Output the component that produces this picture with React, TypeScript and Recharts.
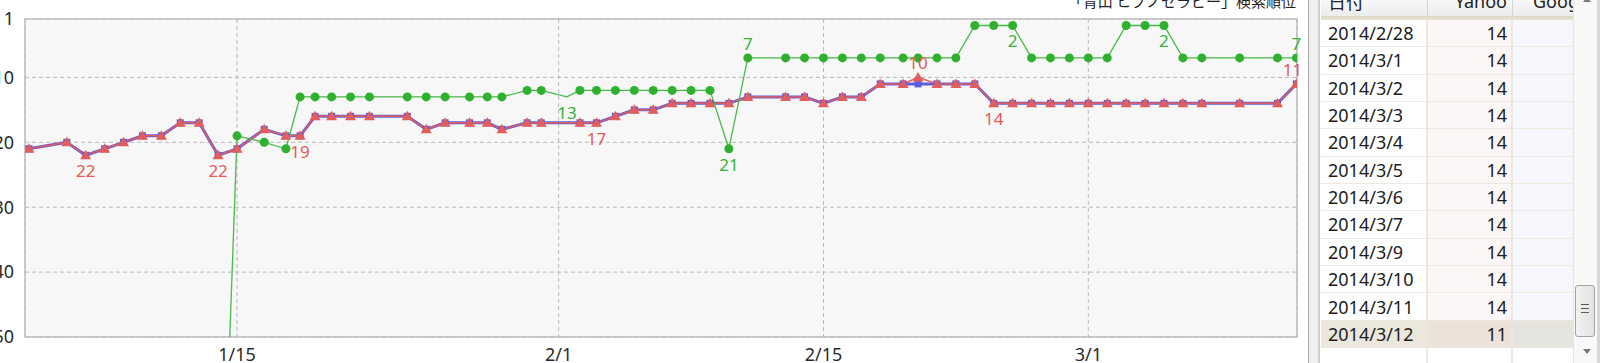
import React from "react";
import { LineChart, Line, XAxis, YAxis, CartesianGrid, ReferenceArea } from "recharts";

// measurement times (month/day, optional hh:mm)
const DATES = [
  "1/4", "1/6", "1/7", "1/8", "1/9", "1/10", "1/11", "1/12", "1/13", "1/14",
  "1/15", "1/16 10:30", "1/17 14:00", "1/18 08:00", "1/19 03:00", "1/20", "1/21", "1/22", "1/24", "1/25",
  "1/26", "1/27 07:00", "1/28 05:30", "1/29", "1/30 08:00", "1/31 02:00", "2/1 10:30", "2/2 03:00", "2/3", "2/4",
  "2/5", "2/6", "2/7", "2/8", "2/9", "2/10", "2/11", "2/13", "2/14", "2/15",
  "2/16", "2/17", "2/18", "2/19 05:00", "2/20", "2/21", "2/22", "2/23", "2/24", "2/25",
  "2/26", "2/27", "2/28", "3/1", "3/2", "3/3", "3/4", "3/5", "3/6", "3/7",
  "3/9", "3/11", "3/12",
];

const YAHOO = [
  21, 20, 22, 21, 20, 19, 19, 17, 17, 22,
  21, 18, 19, 19, 16, 16, 16, 16, 16, 18,
  17, 17, 17, 18, 17, 17, null, 17, 17, 16,
  15, 15, 14, 14, 14, 14, 13, 13, 13, 14,
  13, 13, 11, 11, 10, 11, 11, 11, 14, 14,
  14, 14, 14, 14, 14, 14, 14, 14, 14, 14,
  14, 14, 11,
];

const GOOGLE = [
  21, 20, 22, 21, 20, 19, 19, 17, 17, 22,
  21, 18, 19, 19, 16, 16, 16, 16, 16, 18,
  17, 17, 17, 18, 17, 17, null, 17, 17, 16,
  15, 15, 14, 14, 14, 14, 13, 13, 13, 14,
  13, 13, 11, 11, 11, 11, 11, 11, 14, 14,
  14, 14, 14, 14, 14, 14, 14, 14, 14, 14,
  14, 14, 11,
];

// 100 = out of ranking
const BING = [
  100, 100, 100, 100, 100, 100, 100, 100, 100, 100,
  19, 20, 21, 13, 13, 13, 13, 13, 13, 13,
  13, 13, 13, 13, 12, 12, 13, 12, 12, 12,
  12, 12, 12, 12, 12, 21, 7, 7, 7, 7,
  7, 7, 7, 7, 7, 7, 7, 2, 2, 2,
  7, 7, 7, 7, 7, 2, 2, 2, 7, 7,
  7, 7, 7,
];

const YAHOO_LABELS = ["1/7", "1/14", "1/18 08:00", "2/3", "2/20", "2/24", "3/12"];
const BING_LABELS = ["2/1 10:30", "2/10", "2/11", "2/25", "3/5", "3/12"];
const BING_NO_MARK = ["2/1 10:30"];

const X_TICKS = ["1/15", "2/1", "2/15", "3/1"];
const X_RANGE = ["1/3 19:00", "3/12 00:45"];
const Y_TICKS = [1, 10, 20, 30, 40, 50];

const TITLE = "「青山 ヒプノセラピー」検索順位";
const COLUMNS = ["日付", "Yahoo", "Google"];
const TABLE_DATES = [
  "2014/2/28", "2014/3/1", "2014/3/2", "2014/3/3", "2014/3/4", "2014/3/5",
  "2014/3/6", "2014/3/7", "2014/3/9", "2014/3/10", "2014/3/11", "2014/3/12",
];
const TABLE_YAHOO = [14, 14, 14, 14, 14, 14, 14, 14, 14, 14, 14, 11];

const toTime = (s: string) => {
  const [md, hm = "00:00"] = s.split(" ");
  const [m, d] = md.split("/").map(Number);
  const [h, mi] = hm.split(":").map(Number);
  return Date.UTC(2014, m - 1, d, h, mi);
};

const data = DATES.map((d, i) => ({
  date: d,
  t: toTime(d),
  yahoo: YAHOO[i],
  google: GOOGLE[i],
  bing: BING[i],
}));

const RED = "#e25d5d";
const BLUE = "#5c5cd8";
const GREEN = "#2fb12f";
const LABEL_MAX_X = 1302;

const triangleDot = (p: any) => {
  const { cx, cy, index } = p;
  if (cx == null || cy == null || p.value == null) return <g key={`tr-${index}`} />;
  return (
    <path
      key={`tr-${index}`}
      d={`M${cx},${cy - 5.5}L${cx + 5.5},${cy + 4}L${cx - 5.5},${cy + 4}Z`}
      fill={RED}
    />
  );
};

const squareDot = (p: any) => {
  const { cx, cy, index } = p;
  if (cx == null || cy == null || p.value == null) return <g key={`sq-${index}`} />;
  return <rect key={`sq-${index}`} x={cx - 3.5} y={cy - 3.5} width={7} height={7} fill={BLUE} />;
};

const circleDot = (p: any) => {
  const { cx, cy, index } = p;
  if (cx == null || cy == null || BING_NO_MARK.includes(data[index]?.date)) return <g key={`ci-${index}`} />;
  return <circle key={`ci-${index}`} cx={cx} cy={cy} r={4.5} fill={GREEN} />;
};

const makeLabel = (key: "yahoo" | "bing", dates: string[], color: string) => (p: any) => {
  const { index } = p;
  const row: any = data[index];
  if (!row || !dates.includes(row.date)) return null;
  const x = p.x ?? p.viewBox?.x;
  const y = p.y ?? p.viewBox?.y;
  if (x == null || y == null) return null;
  const v = row[key];
  const prev = index > 0 ? (data[index - 1] as any)[key] : null;
  const above = index === data.length - 1 || (prev != null && v < prev);
  // keep the text inside the chart's right edge
  const half = (String(v).length * 9.6) / 2;
  const cx = Math.min(x, LABEL_MAX_X - half);
  return (
    <text x={cx} y={above ? y - 8 : y + 22} textAnchor="middle" fill={color} fontSize={17}>
      {v}
    </text>
  );
};

function RankChart() {
  const tickLabel = (t: number) => {
    const d = new Date(t);
    return `${d.getUTCMonth() + 1}/${d.getUTCDate()}`;
  };
  const [x0, x1] = X_RANGE.map(toTime);
  return (
    <LineChart width={1306} height={363} data={data} margin={{ top: 19, right: 9, bottom: 0, left: 0 }}>
      <CartesianGrid fill="#f7f7f7" stroke="#b9b9b9" strokeDasharray="4 3" />
      <XAxis
        dataKey="t"
        type="number"
        domain={[x0, x1]}
        allowDataOverflow
        ticks={X_TICKS.map(toTime)}
        tickFormatter={tickLabel}
        axisLine={false}
        tickLine={false}
        tickSize={0}
        tickMargin={11}
        height={26}
        tick={{ fill: "#2a2a2a", fontSize: 18 }}
      />
      <YAxis
        reversed
        type="number"
        domain={[1, 50]}
        allowDataOverflow
        ticks={Y_TICKS}
        interval={0}
        axisLine={false}
        tickLine={false}
        tickSize={0}
        tickMargin={11}
        width={25}
        tick={{ fill: "#2a2a2a", fontSize: 18 }}
      />
      <ReferenceArea x1={x0} x2={x1} y1={1} y2={50} fill="none" stroke="#bdbdbd" strokeWidth={1.5} />
      <Line
        dataKey="google"
        stroke={BLUE}
        strokeWidth={3}
        dot={squareDot}
        activeDot={false}
        connectNulls
        isAnimationActive={false}
      />
      <Line
        dataKey="yahoo"
        stroke={RED}
        strokeWidth={1.5}
        dot={triangleDot}
        activeDot={false}
        connectNulls
        label={makeLabel("yahoo", YAHOO_LABELS, "#e35a57")}
        isAnimationActive={false}
      />
      <Line
        dataKey="bing"
        stroke="#49b949"
        strokeWidth={1.3}
        dot={circleDot}
        activeDot={false}
        label={makeLabel("bing", BING_LABELS, "#38b038")}
        isAnimationActive={false}
      />
    </LineChart>
  );
}

const ROW_TOP = 20;
const ROW_H = 27.35;
const COL_W = [106, 85, 61];

function DataTable() {
  const lefts = [0, COL_W[0], COL_W[0] + COL_W[1]];
  const cellBg = ["#ffffff", "#fdf6f6", "#f6f6fd"];
  const selBg = ["#ebe7dc", "#ece2d9", "#e6e4df"];
  return (
    <div style={{ position: "absolute", left: 1321, top: 0, width: 252, height: 363, background: "#fff", overflow: "hidden" }}>
      {/* header */}
      <div style={{ position: "absolute", left: 0, top: 0, width: 252, height: 16, background: "linear-gradient(#f8f8f8, #ececec)" }} />
      {lefts.slice(1).map((l, i) => (
        <div key={`hs${i}`} style={{ position: "absolute", left: l, top: 0, width: 1, height: 16, background: "#d4d4d4" }} />
      ))}
      {COLUMNS.map((c, i) => (
        <div
          key={`h${i}`}
          style={{
            position: "absolute",
            top: -11,
            left: lefts[i] + (i === 0 ? 7 : i === 1 ? 0 : 21),
            width: i === 1 ? COL_W[1] - 5 : 120,
            textAlign: i === 1 ? "right" : "left",
            fontSize: 18,
            lineHeight: "24px",
            color: "#222",
            fontFamily: i === 0 ? "'Noto Sans CJK JP'" : "'Noto Sans'",
            whiteSpace: "nowrap",
          }}
        >
          {c}
        </div>
      ))}
      <div style={{ position: "absolute", left: 0, top: 16, width: 252, height: 4, background: "linear-gradient(#ddd6c2, #e9e4d6)" }} />
      {/* rows */}
      {TABLE_DATES.map((d, r) => {
        const top = ROW_TOP + r * ROW_H;
        const sel = r === TABLE_DATES.length - 1;
        return (
          <React.Fragment key={`r${r}`}>
            {lefts.map((l, c) => (
              <div
                key={`c${r}-${c}`}
                style={{
                  position: "absolute",
                  left: l,
                  top,
                  width: COL_W[c],
                  height: ROW_H,
                  background: sel ? selBg[c] : cellBg[c],
                  borderBottom: "1.5px solid #ede9df",
                  boxSizing: "border-box",
                }}
              />
            ))}
            <div style={{ position: "absolute", left: 7, top, height: ROW_H, lineHeight: `${ROW_H}px`, fontSize: 18, color: "#1c1c1c" }}>{d}</div>
            <div
              style={{
                position: "absolute",
                left: COL_W[0],
                width: COL_W[1] - 5,
                top,
                height: ROW_H,
                lineHeight: `${ROW_H}px`,
                fontSize: 18,
                textAlign: "right",
                color: "#1c1c1c",
              }}
            >
              {TABLE_YAHOO[r]}
            </div>
          </React.Fragment>
        );
      })}
      {lefts.slice(1).map((l, i) => (
        <div key={`vs${i}`} style={{ position: "absolute", left: l - 1, top: 20, width: 1.5, height: 343, background: "#ece8dc" }} />
      ))}
    </div>
  );
}

function ScrollBar() {
  return (
    <div style={{ position: "absolute", left: 1573, top: 0, width: 24, height: 363, background: "#f8f8f8", borderLeft: "1px solid #e4e4e4", boxSizing: "border-box" }}>
      <div style={{ position: "absolute", left: 9, top: -3, width: 0, height: 0, borderLeft: "4px solid transparent", borderRight: "4px solid transparent", borderBottom: "5px solid #777" }} />
      <div
        style={{
          position: "absolute",
          left: 1,
          top: 285,
          width: 20,
          height: 52,
          borderRadius: 3,
          border: "1px solid #a3a3a3",
          background: "linear-gradient(90deg, #f2f2f2, #e2e2e2)",
          boxSizing: "border-box",
        }}
      >
        {[0, 4, 8].map((o) => (
          <div key={o} style={{ position: "absolute", left: 5, top: 18 + o, width: 8, height: 1, background: "#5a5a5a" }} />
        ))}
      </div>
      <div style={{ position: "absolute", left: 9, top: 349, width: 0, height: 0, borderLeft: "4px solid transparent", borderRight: "4px solid transparent", borderTop: "5px solid #777" }} />
    </div>
  );
}

export default function App() {
  return (
    <div
      style={{
        position: "fixed",
        left: 0,
        top: 0,
        width: 1600,
        height: 363,
        background: "#fff",
        overflow: "hidden",
        fontFamily: "'Noto Sans', 'Noto Sans CJK JP', sans-serif",
      }}
    >
      <div style={{ position: "absolute", left: 0, top: 0 }}>
        <RankChart />
      </div>
      <div
        style={{
          position: "absolute",
          right: 1600 - 1296,
          top: -7,
          fontSize: 15,
          lineHeight: "15px",
          color: "#222",
          fontFamily: "'Noto Sans CJK JP'",
          whiteSpace: "nowrap",
        }}
      >
        {TITLE}
      </div>
      <div style={{ position: "absolute", left: 1308, top: 0, width: 1, height: 363, background: "#a8a8a8" }} />
      <div style={{ position: "absolute", left: 1309, top: 0, width: 9, height: 363, background: "#f0f0f0" }} />
      <div style={{ position: "absolute", left: 1318, top: 0, width: 2, height: 363, background: "#cfcfcf" }} />
      <DataTable />
      <ScrollBar />
      <div style={{ position: "absolute", left: 1597, top: 0, width: 3, height: 363, background: "#d6d6d6" }} />
    </div>
  );
}
